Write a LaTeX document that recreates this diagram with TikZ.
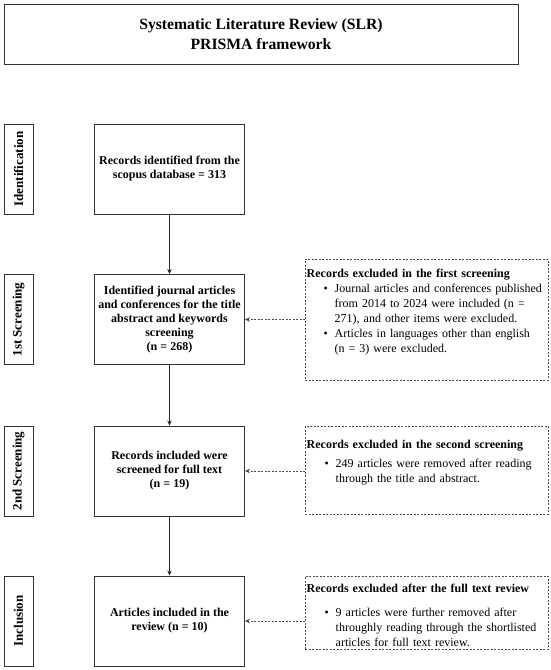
\documentclass[tikz,border=0pt]{standalone}
\usepackage{fontspec}
\setmainfont{Liberation Serif}
\usetikzlibrary{arrows.meta}
\tikzset{
  mainbox/.style={draw=black!80, line width=0.9pt, minimum width=150pt, minimum height=90pt, align=center, inner sep=0pt, font=\fontsize{12}{14}\selectfont\bfseries},
  sidebox/.style={draw=black!80, line width=0.9pt, minimum width=90pt, minimum height=29pt, rotate=90, inner sep=0pt, font=\fontsize{13}{15}\selectfont\bfseries},
  exbox/.style={draw=black!70, line width=0.8pt, dash pattern=on 2pt off 1.5pt, anchor=north west, inner sep=0pt},
  extext/.style={anchor=north west, text width=236pt, align=left, inner sep=0pt, font=\fontsize{12}{15}\selectfont},
  flow/.style={draw=black!85, line width=0.8pt, -{Stealth[length=5pt,width=4.5pt]}},
  exarrow/.style={draw=black!70, line width=0.8pt, dash pattern=on 2pt off 1.5pt, -{Stealth[length=5pt,width=4.5pt]}}
}
\newcommand{\bitem}{\noindent\llap{\textbullet\hspace{7pt}}}
\begin{document}
\begin{tikzpicture}[x=1pt,y=-1pt]
\useasboundingbox (0,0) rectangle (550,670);
% title
\node[draw=black!80, line width=0.9pt, minimum width=514pt, minimum height=60pt, align=center, inner sep=0pt, font=\fontsize{15.7}{20}\selectfont\bfseries] (title) at (261,34) {Systematic Literature Review (SLR)\\PRISMA framework};
% side labels
\node[sidebox] (s1) at (18.5,169) {Identification};
\node[sidebox] (s2) at (18.5,319.5) {1st Screening};
\node[sidebox] (s3) at (18.5,471) {2nd Screening};
\node[sidebox] (s4) at (18.5,621) {Inclusion};
% main boxes
\node[mainbox] (b1) at (169.5,169) {Records identified from the\\scopus database = 313};
\node[mainbox] (b2) at (169.5,319.5) {Identified journal articles\\and conferences for the title\\abstract and keywords\\screening\\(n = 268)};
\node[mainbox] (b3) at (169.5,471) {Records included were\\screened for full text\\(n = 19)};
\node[mainbox] (b4) at (169.5,621) {Articles included in the\\review (n = 10)};
% flow arrows
\draw[flow] (b1) -- (b2);
\draw[flow] (b2) -- (b3);
\draw[flow] (b3) -- (b4);
% exclusion boxes
\node[exbox, minimum width=243pt, minimum height=121pt] (e1) at (305,259) {};
\node[exbox, minimum width=243pt, minimum height=88pt] (e2) at (305,426) {};
\node[exbox, minimum width=243pt, minimum height=73pt] (e3) at (305,576) {};
\node[extext] (t1) at (306.5,268.5) {\textbf{Records excluded in the first screening}\par
{\leftskip=28pt
\bitem Journal articles and conferences published\\from 2014 to 2024 were included (n =\\271), and other items were excluded.\par
\bitem Articles in languages other than english\\(n = 3) were excluded.\par}};
\node[extext] (t2) at (306.5,439.5) {\textbf{Records excluded in the second screening}\par\vspace{4pt}
{\leftskip=29pt
\bitem 249 articles were removed after reading\\through the title and abstract.\par}};
\node[extext] (t3) at (306.5,583.5) {\textbf{Records excluded after the full text review}\par\vspace{9pt}
{\leftskip=29pt
\bitem 9 articles were further removed after\\throughly reading through the shortlisted\\articles for full text review.\par}};
% exclusion arrows
\draw[exarrow] (e1.west |- b2.east) -- (b2.east);
\draw[exarrow] (e2.west |- b3.east) -- (b3.east);
\draw[exarrow] (e3.west |- b4.east) -- (b4.east);
\end{tikzpicture}
\end{document}
